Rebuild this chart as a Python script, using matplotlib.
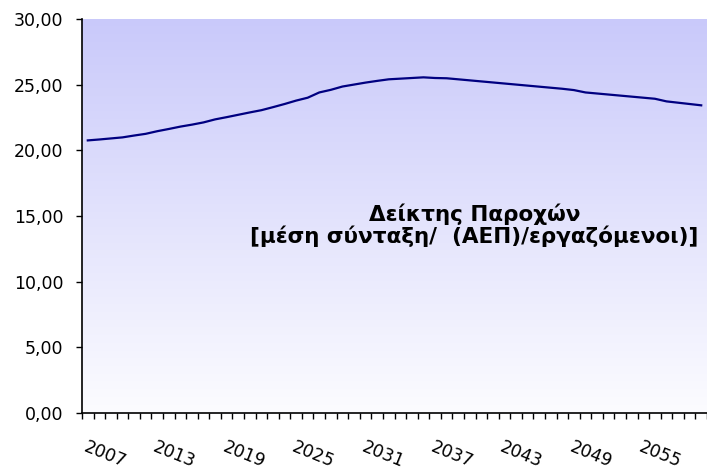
import numpy as np
import matplotlib.pyplot as plt
from matplotlib.colors import LinearSegmentedColormap
from matplotlib.ticker import FuncFormatter

# data (one value per year)
years = list(range(2007, 2061))
index_values = [
    20.75, 20.82, 20.90, 20.98, 21.12, 21.25, 21.45, 21.62, 21.80, 21.95,
    22.12, 22.35, 22.52, 22.70, 22.88, 23.05, 23.28, 23.52, 23.78, 24.00,
    24.40, 24.60, 24.85, 25.00, 25.15, 25.28, 25.40, 25.45, 25.50, 25.55,
    25.50, 25.48, 25.40, 25.32, 25.24, 25.16, 25.08, 25.00, 24.92, 24.84,
    24.76, 24.68, 24.58, 24.40, 24.32, 24.24, 24.16, 24.08, 24.00, 23.92,
    23.72, 23.62, 23.52, 23.42,
]
label_years = [2007, 2013, 2019, 2025, 2031, 2037, 2043, 2049, 2055]
y_ticks = [0, 5, 10, 15, 20, 25, 30]
title_text = 'Δείκτης Παροχών\n[μέση σύνταξη/  (ΑΕΠ)/εργαζόμενοι)]'

plt.rcParams['font.family'] = ['DejaVu Sans']

fig = plt.figure(figsize=(7.07, 4.72), dpi=100)
ax = fig.add_axes([0.116, 0.125, 0.884, 0.835])

x0, x1 = years[0] - 0.5, years[-1] + 0.5
ax.set_xlim(x0, x1)
ax.set_ylim(0, 30)

# gradient background (lavender at top fading to white)
cmap = LinearSegmentedColormap.from_list('bg', ['#fcfcff', '#c9c9fa'])
grad = np.linspace(0, 1, 256).reshape(-1, 1)
ax.imshow(grad, cmap=cmap, aspect='auto', origin='lower',
          extent=[x0, x1, 0, 30], zorder=0)

ax.plot(years, index_values, color='#000080', linewidth=1.6, zorder=3)

ax.text(2040.4, 14.3, title_text, ha='center', va='center',
        fontsize=15.5, fontweight='bold', linespacing=1.0, zorder=4)

for s in ['top', 'right']:
    ax.spines[s].set_visible(False)
ax.spines['left'].set_linewidth(1.2)
ax.spines['bottom'].set_linewidth(1.2)

ax.set_yticks(y_ticks)
ax.yaxis.set_major_formatter(FuncFormatter(lambda v, p: f'{v:.2f}'.replace('.', ',')))
ax.tick_params(axis='y', length=4.5, width=1, pad=9, labelsize=12.5)

ax.set_xticks(label_years)
ax.set_xticks(np.arange(x0, x1 + 0.01, 1), minor=True)
ax.set_xticklabels([str(y) for y in label_years], rotation=-22,
                   ha='left', va='top', rotation_mode='anchor')
ax.tick_params(axis='x', which='major', length=0, pad=18, labelsize=12.5)
ax.tick_params(axis='x', which='minor', length=4, width=1)

fig.savefig('out.png', dpi=100)
